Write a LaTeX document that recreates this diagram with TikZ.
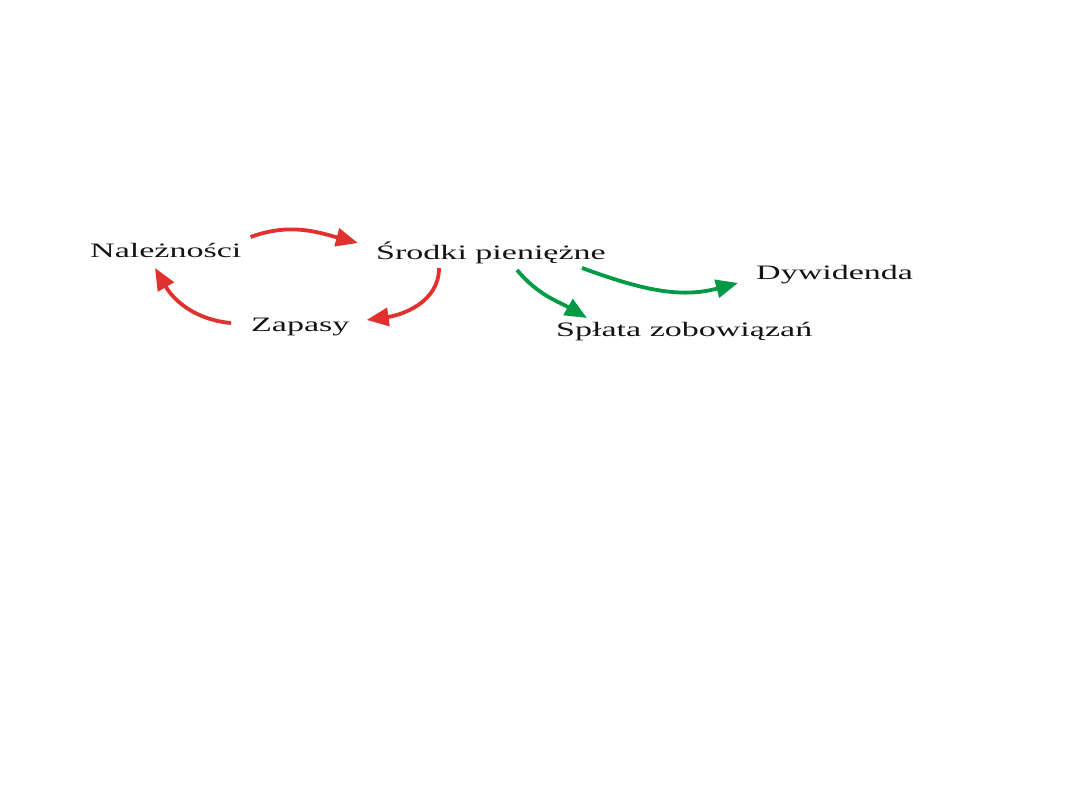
\documentclass[tikz,border=0pt]{standalone}
\usepackage{fontspec}
\setmainfont{Liberation Serif}[FakeStretch=1.66]
\usepackage{tikz}
\usetikzlibrary{arrows.meta}
\definecolor{cycred}{HTML}{E0312F}
\definecolor{outgreen}{HTML}{009A44}

\begin{document}
\begin{tikzpicture}[x=1pt,y=1pt,>={Triangle[length=22pt,width=18pt]},
  lbl/.style={anchor=base west,inner sep=0pt,font=\fontsize{20.5}{22}\selectfont,text=black!92},
  redflow/.style={->,draw=cycred,line width=3.8pt},
  greenflow/.style={->,draw=outgreen,line width=3.8pt}]
\useasboundingbox (0,0) rectangle (1080,810);
\node[lbl] (nal) at (90,552) {Należności};
\node[lbl] (srd) at (376,550) {Środki pieniężne};
\node[lbl] (dyw) at (756,530) {Dywidenda};
\node[lbl] (zap) at (251,478) {Zapasy};
\node[lbl] (spl) at (556,473) {Spłata zobowiązań};
% obieg
\draw[redflow] ([shift={(9,21)}]nal.base east) to[out=20,in=165] ([shift={(-18,17)}]srd.base west);
\draw[redflow] ([shift={(63,-8)}]srd.base west) to[out=-90,in=8] ([shift={(17,12)}]zap.base east);
\draw[redflow] ([shift={(-20,9)}]zap.base west) to[out=175,in=-60] ([shift={(65,-10)}]nal.base west);
% wyplywy
\draw[greenflow] ([shift={(141,-10)}]srd.base west) to[out=-50,in=150] ([shift={(31,19)}]spl.base west);
\draw[greenflow] ([shift={(206,-8)}]srd.base west) to[out=-20,in=195] ([shift={(-18,-3)}]dyw.base west);
\end{tikzpicture}
\end{document}
